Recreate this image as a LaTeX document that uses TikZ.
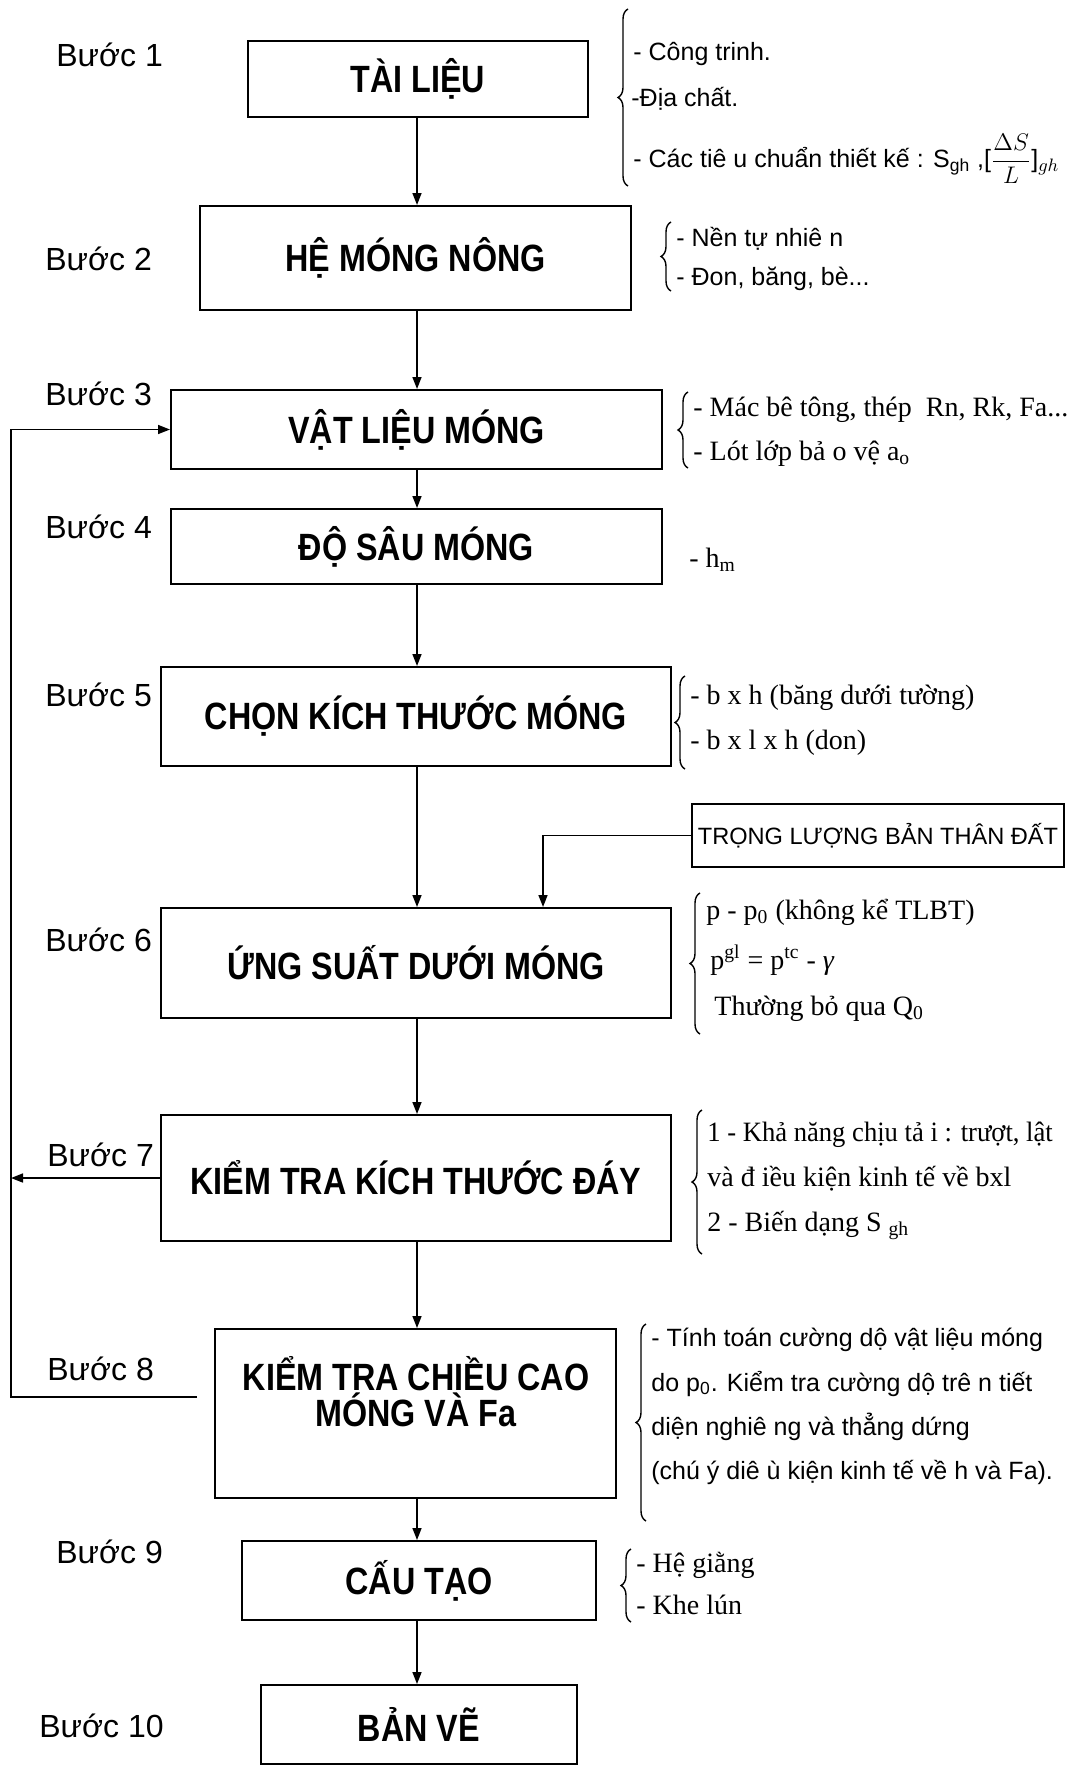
\documentclass[tikz,border=0pt]{standalone}
\usepackage{fontspec}
\setmainfont{Liberation Serif}
\newfontfamily\sansf{Liberation Sans}
\newfontfamily\boxf[FakeStretch=0.85]{Liberation Sans}
\newfontfamily\seriff{Liberation Serif}
\newfontfamily\seriffn[FakeStretch=0.95]{Liberation Serif}
\usetikzlibrary{arrows.meta,decorations.pathreplacing,calc}
\tikzset{
  stepbox/.style={draw, line width=1pt, inner sep=0pt, align=center,
    font=\boxf\bfseries\fontsize{19}{17}\selectfont},
  steptext/.style={inner sep=0pt, align=center,
    font=\boxf\bfseries\fontsize{19}{17}\selectfont},
  sidebox/.style={draw, line width=1pt, inner sep=0pt, align=center,
    font=\sansf\fontsize{11.8}{14}\selectfont},
  buoc/.style={anchor=base west, inner sep=0pt, font=\sansf\fontsize{16}{18}\selectfont},
  snote/.style={anchor=base west, inner sep=0pt, font=\sansf\fontsize{12.5}{14}\selectfont},
  rnote/.style={anchor=base west, inner sep=0pt, font=\seriff\fontsize{14}{16}\selectfont},
  conn/.style={line width=0.8pt},
  arr/.style={-{Triangle[length=6pt,width=4.5pt]}},
  bracket/.style={line width=0.7pt, decorate, decoration={brace, amplitude=5pt}}
}
\begin{document}
\begin{tikzpicture}[x=0.5pt,y=-0.5pt]
\useasboundingbox (0,0) rectangle (1068,1766);

% spine and loop coordinates
\coordinate (spine) at (417,0);
\coordinate (loopx) at (11,0);
\coordinate (tlx) at (543,0);
\coordinate (b8tail) at (197,1397);

% main boxes
\node[stepbox, minimum width=170pt, minimum height=38pt] (b1) at (418,79) {TÀI LIỆU};
\node[stepbox, minimum width=215.5pt, minimum height=52pt] (b2) at (415.5,258) {HỆ MÓNG NÔNG};
\node[stepbox, minimum width=245.5pt, minimum height=39.5pt] (b3) at (416.5,429.5) {VẬT LIỆU MÓNG};
\node[stepbox, minimum width=245.5pt, minimum height=37.5pt] (b4) at (416.5,546.5) {ĐỘ SÂU MÓNG};
\node[stepbox, minimum width=255pt, minimum height=49.5pt] (b5) at (416,716.5) {CHỌN KÍCH THƯỚC MÓNG};
\node[stepbox, minimum width=255pt, minimum height=55pt] (b6) at (416,963) {ỨNG SUẤT DƯỚI MÓNG};
\node[stepbox, minimum width=255pt, minimum height=63pt] (b7) at (416,1178) {KIỂM TRA KÍCH THƯỚC ĐÁY};
\node[stepbox, minimum width=200.5pt, minimum height=84.5pt] (b8) at (415.5,1413.5) {};
\node[steptext] (b8t) at (416,1392) {KIỂM TRA CHIỀU CAO\\MÓNG VÀ Fa};
\node[stepbox, minimum width=177pt, minimum height=39.5pt] (b9) at (419,1580.5) {CẤU TẠO};
\node[stepbox, minimum width=158pt, minimum height=39.5pt] (b10) at (419,1724.5) {BẢN VẼ};

\node[sidebox, minimum width=186pt, minimum height=31.5pt] (tl) at (878,835.5) {TRỌNG LƯỢNG BẢN THÂN ĐẤT};

% step labels
\node[buoc] (s1) at (56,67) {Bước 1};
\node[buoc] (s2) at (45,270) {Bước 2};
\node[buoc] (s3) at (45,405) {Bước 3};
\node[buoc] (s4) at (45,538) {Bước 4};
\node[buoc] (s5) at (45,706) {Bước 5};
\node[buoc] (s6) at (45,951) {Bước 6};
\node[buoc] (s7) at (47,1166) {Bước 7};
\node[buoc] (s8) at (47,1380) {Bước 8};
\node[buoc] (s9) at (56,1563) {Bước 9};
\node[buoc] (s10) at (39,1737) {Bước 10};

% main flow arrows
\foreach \a/\b in {b1/b2,b2/b3,b3/b4,b4/b5,b5/b6,b6/b7,b7/b8,b8/b9,b9/b10}
  \draw[conn,arr] (\a.south -| spine) -- (\b.north -| spine);

% side input
\draw[conn,arr] (tl.west) -| (b6.north -| tlx);

% feedback loop
\draw[conn,arr] (b8tail) -- (b8tail -| loopx) -- (b3.west -| loopx) -- (b3.west);
\draw[conn,arr] (b7.west) -- (b7.west -| loopx);

% braces
\draw[bracket] (628,186) -- (628,9);
\draw[bracket] (671,291) -- (671,222);
\draw[bracket] (688,468) -- (688,392);
\draw[bracket] (685,769) -- (685,676);
\draw[bracket] (700,1034) -- (700,893);
\draw[bracket] (702,1254) -- (702,1110);
\draw[bracket] (646,1521) -- (646,1324);
\draw[bracket] (631,1622) -- (631,1549);

% note 1
\node[snote] (n1a) at (633,61) {- Công trinh.};
\node[snote] (n1b) at (631,107) {-Địa chất.};
\node[snote] (n1c) at (633,167) {- Các tiê u chuẩn thiết kế : S\textsubscript{gh} ,[$\displaystyle\frac{\Delta S}{L}$]$_{gh}$};
% note 2
\node[snote] (n2a) at (676,246) {- Nền tự nhiê n};
\node[snote] (n2b) at (676,285) {- Đon, băng, bè...};
% note 3
\node[rnote] (n3a) at (693,416) {- Mác bê tông, thép\ \ Rn, Rk, Fa...};
\node[rnote] (n3b) at (693,460) {- Lót lớp bả o vệ a\textsubscript{o}};
% note 4
\node[rnote] (n4) at (689,567) {- h\textsubscript{m}};
% note 5
\node[rnote] (n5a) at (690,704) {- b x h (băng dưới tường)};
\node[rnote] (n5b) at (690,749) {- b x l x h (don)};
% note 6
\node[rnote] (n6a) at (706,919) {p - p\textsubscript{0} (không kể TLBT)};
\node[rnote] (n6b) at (710,969) {p\textsuperscript{gl} = p\textsuperscript{tc} - {\itshape γ}};
\node[rnote] (n6c) at (714,1015) {Thường bỏ qua Q\textsubscript{0}};
% note 7
\node[rnote, font=\seriffn\fontsize{14}{16}\selectfont] (n7a) at (707,1141) {1 - Khả năng chịu tả i : trượt, lật};
\node[rnote] (n7b) at (707,1186) {và đ iều kiện kinh tế về bxl};
\node[rnote] (n7c) at (707,1231) {2 - Biến dạng S \textsubscript{gh}};
% note 8
\node[snote] (n8a) at (651,1346) {- Tính toán cường dộ vật liệu móng};
\node[snote] (n8b) at (651,1391) {do p\textsubscript{0}. Kiểm tra cường dộ trê n tiết};
\node[snote] (n8c) at (651,1435) {diện nghiê ng và thẳng dứng};
\node[snote] (n8d) at (651,1479) {(chú ý diê ù kiện kinh tế về h và Fa).};
% note 9
\node[rnote] (n9a) at (636,1572) {- Hệ giằng};
\node[rnote] (n9b) at (636,1614) {- Khe lún};
\end{tikzpicture}
\end{document}
